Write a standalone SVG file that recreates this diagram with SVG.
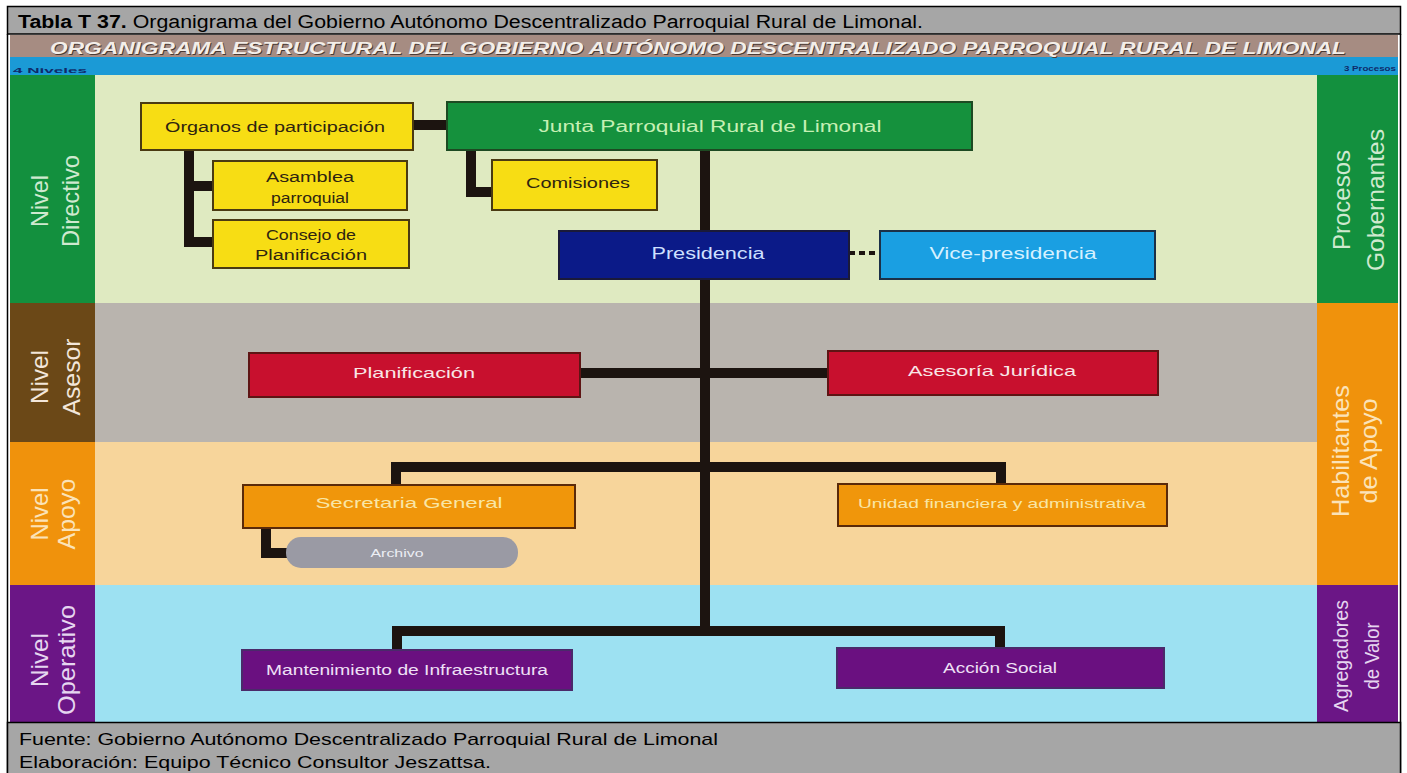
<svg xmlns="http://www.w3.org/2000/svg" width="1407" height="773" viewBox="0 0 1407 773">
<style>
text{font-family:"Liberation Sans",Arial,sans-serif}
.hdr{font-size:18px;fill:#000}
.box{stroke-width:2}
.yel{fill:#f7dd14;stroke:#4a3a12}
.dk{fill:#2e2410}
.lbl{font-size:24px;text-anchor:middle}
.nt{text-anchor:middle;lengthAdjust:spacingAndGlyphs}
.con{fill:none;stroke:#1c1410;stroke-width:10;stroke-linejoin:miter;stroke-linecap:butt}
</style>
<rect x="0" y="0" width="1407" height="773" fill="#ffffff"/>
<!-- header -->
<g id="header">
<rect x="7.5" y="6.5" width="1393" height="27.5" fill="#a6a6a6" stroke="#000" stroke-width="1.5"/>
<text class="hdr" x="18" y="28" textLength="905" lengthAdjust="spacingAndGlyphs"><tspan font-weight="bold">Tabla T 37.</tspan> Organigrama del Gobierno Autónomo Descentralizado Parroquial Rural de Limonal.</text>
</g>
<!-- frame -->
<line x1="7.5" y1="34" x2="7.5" y2="773" stroke="#000" stroke-width="1.5"/>
<line x1="1400.5" y1="34" x2="1400.5" y2="773" stroke="#000" stroke-width="1.5"/>
<!-- bands -->
<g id="bands">
<rect x="10" y="35" width="1388" height="22" fill="#a68c82"/>
<rect x="10" y="57" width="1388" height="18" fill="#1b9ad6"/>
<rect x="10" y="75" width="1388" height="228" fill="#dfeac1"/>
<rect x="10" y="303" width="1388" height="139" fill="#b9b4ae"/>
<rect x="10" y="442" width="1388" height="143" fill="#f7d59b"/>
<rect x="10" y="585" width="1388" height="138" fill="#9de1f2"/>
<rect x="10" y="75" width="85" height="228" fill="#13903e"/>
<rect x="10" y="303" width="85" height="139" fill="#6b4817"/>
<rect x="10" y="442" width="85" height="143" fill="#f0920c"/>
<rect x="10" y="585" width="85" height="138" fill="#6b1686"/>
<rect x="1317" y="75" width="81" height="228" fill="#13903e"/>
<rect x="1317" y="303" width="81" height="282" fill="#f0920c"/>
<rect x="1317" y="585" width="81" height="138" fill="#6b1686"/>
<text x="699" y="55" font-size="16" font-weight="bold" font-style="italic" fill="#4a3a34" text-anchor="middle" textLength="1296" lengthAdjust="spacingAndGlyphs">ORGANIGRAMA ESTRUCTURAL DEL GOBIERNO AUTÓNOMO DESCENTRALIZADO PARROQUIAL RURAL DE LIMONAL</text>
<text x="698" y="54" font-size="16" font-weight="bold" font-style="italic" fill="#f3eee9" text-anchor="middle" textLength="1296" lengthAdjust="spacingAndGlyphs">ORGANIGRAMA ESTRUCTURAL DEL GOBIERNO AUTÓNOMO DESCENTRALIZADO PARROQUIAL RURAL DE LIMONAL</text>
<text x="13" y="73" font-size="8" font-weight="bold" fill="#0f2a6a" textLength="74" lengthAdjust="spacingAndGlyphs">4 Niveles</text>
<text x="1396" y="71" font-size="8" font-weight="bold" fill="#0f2a6a" text-anchor="end" textLength="52" lengthAdjust="spacingAndGlyphs">3 Procesos</text>
</g>
<!-- level labels -->
<g id="lvl-directivo" transform="translate(0,201) rotate(-90)">
<text class="lbl" x="0" y="48" fill="#cfe9cf" textLength="52" lengthAdjust="spacingAndGlyphs">Nivel</text>
<text class="lbl" x="0" y="79" fill="#cfe9cf" textLength="92" lengthAdjust="spacingAndGlyphs">Directivo</text>
</g>
<g id="lvl-asesor" transform="translate(0,377) rotate(-90)">
<text class="lbl" x="0" y="48" fill="#f3e6da" textLength="54" lengthAdjust="spacingAndGlyphs">Nivel</text>
<text class="lbl" x="0" y="80" fill="#f3e6da" textLength="77" lengthAdjust="spacingAndGlyphs">Asesor</text>
</g>
<g id="lvl-apoyo" transform="translate(0,514) rotate(-90)">
<text class="lbl" x="0" y="48" fill="#fbe3b8" textLength="53" lengthAdjust="spacingAndGlyphs">Nivel</text>
<text class="lbl" x="0" y="75" fill="#fbe3b8" textLength="71" lengthAdjust="spacingAndGlyphs">Apoyo</text>
</g>
<g id="lvl-operativo" transform="translate(0,660) rotate(-90)">
<text class="lbl" x="0" y="48" fill="#e6d6f0" textLength="54" lengthAdjust="spacingAndGlyphs">Nivel</text>
<text class="lbl" x="0" y="75" fill="#e6d6f0" textLength="110" lengthAdjust="spacingAndGlyphs">Operativo</text>
</g>
<g id="proc-gobernantes" transform="translate(0,200) rotate(-90)">
<text class="lbl" x="0" y="1350" fill="#cfe9cf" textLength="100" lengthAdjust="spacingAndGlyphs">Procesos</text>
<text class="lbl" x="0" y="1384" fill="#cfe9cf" textLength="142" lengthAdjust="spacingAndGlyphs">Gobernantes</text>
</g>
<g id="proc-habilitantes" transform="translate(0,451) rotate(-90)">
<text class="lbl" x="0" y="1349" fill="#fbe3b8" textLength="132" lengthAdjust="spacingAndGlyphs">Habilitantes</text>
<text class="lbl" x="0" y="1377" fill="#fbe3b8" textLength="105" lengthAdjust="spacingAndGlyphs">de Apoyo</text>
</g>
<g id="proc-agregadores" transform="translate(0,656) rotate(-90)">
<text class="lbl" x="0" y="1348" font-size="20" fill="#e6d6f0" style="font-size:20px" textLength="112" lengthAdjust="spacingAndGlyphs">Agregadores</text>
<text class="lbl" x="0" y="1379" fill="#e6d6f0" style="font-size:20px" textLength="67" lengthAdjust="spacingAndGlyphs">de Valor</text>
</g>
<!-- connectors -->
<g id="connectors">
<line class="con" x1="705" y1="150" x2="705" y2="636" stroke-width="13"/>
<line class="con" x1="413" y1="125" x2="447" y2="125" stroke-width="9"/>
<path class="con" d="M189 150 V242 H213 M189 186 H213" stroke-width="9"/>
<path class="con" d="M471 150 V192 H492" stroke-width="9"/>
<line x1="849" y1="253" x2="880" y2="253" stroke="#1c1410" stroke-width="4" stroke-dasharray="6,4"/>
<line class="con" x1="580" y1="373" x2="828" y2="373"/>
<path class="con" d="M396 485 V467 H1001 V484"/>
<path class="con" d="M266 528 V553 H290"/>
<path class="con" d="M397 650 V631 H1000 V648"/>
</g>
<!-- nodes -->
<g id="n-organos"><rect class="box yel" x="141" y="103" width="272" height="47"/><text class="nt dk" x="275" y="132" font-size="14" textLength="220" lengthAdjust="spacingAndGlyphs">Órganos de participación</text></g>
<g id="n-junta"><rect class="box" x="447" y="102" width="525" height="48" fill="#15913d" stroke="#1d4a22"/><text class="nt" x="710" y="132" font-size="16" fill="#c6f0b4" textLength="343" lengthAdjust="spacingAndGlyphs">Junta Parroquial Rural de Limonal</text></g>
<g id="n-asamblea"><rect class="box yel" x="213" y="161" width="194" height="49"/><text class="nt dk" x="310" y="182" font-size="14" textLength="88" lengthAdjust="spacingAndGlyphs">Asamblea</text><text class="nt dk" x="310" y="203" font-size="14" textLength="78" lengthAdjust="spacingAndGlyphs">parroquial</text></g>
<g id="n-consejo"><rect class="box yel" x="213" y="220" width="196" height="48"/><text class="nt dk" x="311" y="240" font-size="14" textLength="90" lengthAdjust="spacingAndGlyphs">Consejo de</text><text class="nt dk" x="311" y="260" font-size="14" textLength="112" lengthAdjust="spacingAndGlyphs">Planificación</text></g>
<g id="n-comisiones"><rect class="box yel" x="492" y="160" width="165" height="50"/><text class="nt dk" x="578" y="188" font-size="14" textLength="104" lengthAdjust="spacingAndGlyphs">Comisiones</text></g>
<g id="n-presidencia"><rect class="box" x="559" y="231" width="290" height="48" fill="#0b1a88" stroke="#1a1a3a"/><text class="nt" x="708" y="259" font-size="16" fill="#cfe0ff" textLength="113" lengthAdjust="spacingAndGlyphs">Presidencia</text></g>
<g id="n-vice"><rect class="box" x="880" y="231" width="275" height="48" fill="#1a9fe2" stroke="#1b3048"/><text class="nt" x="1013" y="259" font-size="16" fill="#d6f1ff" textLength="167" lengthAdjust="spacingAndGlyphs">Vice-presidencia</text></g>
<g id="n-planificacion"><rect class="box" x="249" y="353" width="331" height="44" fill="#c8102e" stroke="#5e1414"/><text class="nt" x="414" y="378" font-size="15" fill="#f8e6e6" textLength="122" lengthAdjust="spacingAndGlyphs">Planificación</text></g>
<g id="n-asesoria"><rect class="box" x="828" y="351" width="330" height="44" fill="#c8102e" stroke="#5e1414"/><text class="nt" x="992" y="376" font-size="15" fill="#f8e6e6" textLength="168" lengthAdjust="spacingAndGlyphs">Asesoría Jurídica</text></g>
<g id="n-secretaria"><rect class="box" x="243" y="485" width="332" height="43" fill="#f0960b" stroke="#5a2a0a"/><text class="nt" x="409" y="508" font-size="15" fill="#f9e6a6" textLength="187" lengthAdjust="spacingAndGlyphs">Secretaria General</text></g>
<g id="n-unidad"><rect class="box" x="838" y="484" width="329" height="42" fill="#f0960b" stroke="#5a2a0a"/><text class="nt" x="1002" y="508" font-size="13" fill="#f9e6a6" textLength="288" lengthAdjust="spacingAndGlyphs">Unidad financiera y administrativa</text></g>
<g id="n-archivo"><rect x="286" y="537" width="232" height="31" rx="15" fill="#9a9aa4"/><text class="nt" x="397" y="557" font-size="10" fill="#eceef4" textLength="53" lengthAdjust="spacingAndGlyphs">Archivo</text></g>
<g id="n-mantenimiento"><rect class="box" x="242" y="650" width="330" height="40" fill="#6a1080" stroke="#4a2a6a"/><text class="nt" x="407" y="675" font-size="14" fill="#efe0f6" textLength="282" lengthAdjust="spacingAndGlyphs">Mantenimiento de Infraestructura</text></g>
<g id="n-accion"><rect class="box" x="837" y="648" width="327" height="40" fill="#6a1080" stroke="#4a2a6a"/><text class="nt" x="1000" y="673" font-size="14" fill="#efe0f6" textLength="114" lengthAdjust="spacingAndGlyphs">Acción Social</text></g>
<!-- footer -->
<g id="footer">
<rect x="7.5" y="722.5" width="1393" height="52" fill="#a6a6a6" stroke="#000" stroke-width="1.5"/>
<text x="19" y="745" font-size="17" fill="#000" textLength="699" lengthAdjust="spacingAndGlyphs">Fuente: Gobierno Autónomo Descentralizado Parroquial Rural de Limonal</text>
<text x="19" y="768" font-size="17" fill="#000" textLength="472" lengthAdjust="spacingAndGlyphs">Elaboración: Equipo Técnico Consultor Jeszattsa.</text>
</g>
</svg>
